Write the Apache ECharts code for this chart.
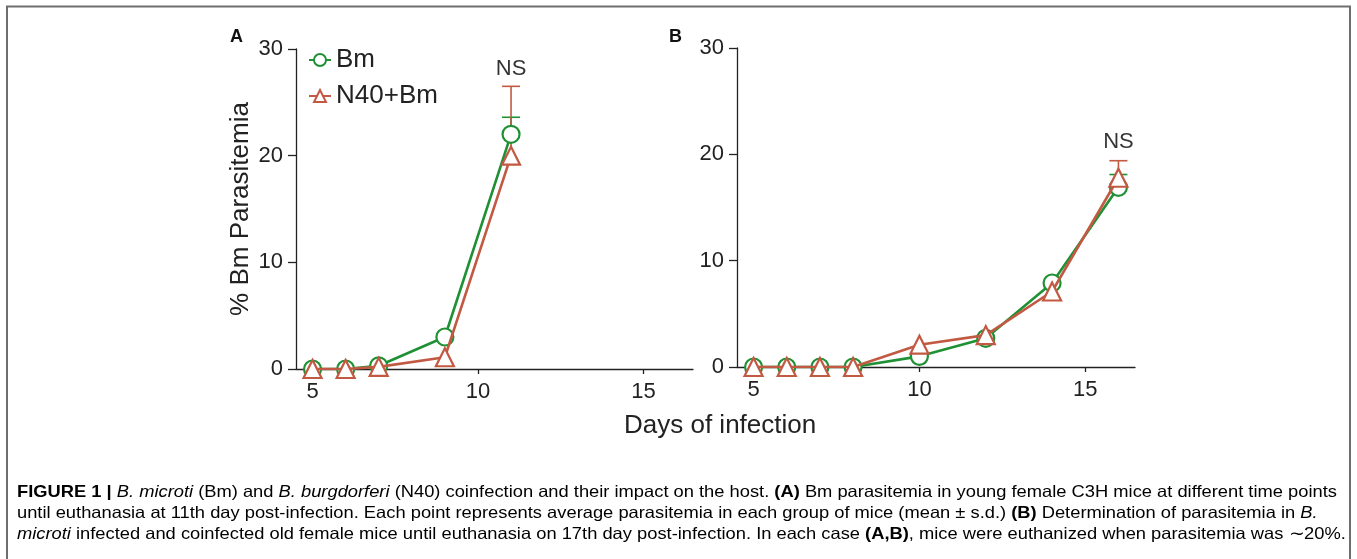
<!DOCTYPE html>
<html><head><meta charset="utf-8">
<script src="https://cdn.jsdelivr.net/npm/echarts@6/dist/echarts.min.js"></script>
<style>html,body{margin:0;padding:0;background:#fff}#c{width:1357px;height:559px}</style>
</head><body><div id="c"></div>
<script>
// ---- data ----
const daysA = [5, 6, 7, 9, 11];
const bmA = [0, 0, 0.3, 3.0, 22.0];
const n40A = [0, 0, 0.2, 1.1, 20.0];
const errA = { bmTop: 23.6, n40Top: 26.5, day: 11 };
const daysB = [5, 6, 7, 8, 10, 12, 14, 16];
const bmB = [0, 0, 0, 0, 1.0, 2.7, 7.9, 16.9];
const n40B = [0, 0, 0, 0, 2.1, 3.0, 7.1, 17.8];
const errB = { bmTop: 18.1, n40Top: 19.4, day: 16 };
const nsPos = [[11, 28.1], [16, 21.2]];
const xTicks = [5, 10, 15];
const seriesNames = ['Bm', 'N40+Bm'];
const captionLines = [
  [{t:'FIGURE 1 | ',s:'b'},{t:'B. microti',s:'i'},{t:' (Bm) and ',s:'n'},{t:'B. burgdorferi',s:'i'},{t:' (N40) coinfection and their impact on the host. ',s:'n'},{t:'(A)',s:'b'},{t:' Bm parasitemia in young female C3H mice at different time points',s:'n'}],
  [{t:'until euthanasia at 11th day post-infection. Each point represents average parasitemia in each group of mice (mean \u00b1 s.d.) ',s:'n'},{t:'(B)',s:'b'},{t:' Determination of parasitemia in ',s:'n'},{t:'B.',s:'i'}],
  [{t:'microti',s:'i'},{t:' infected and coinfected old female mice until euthanasia on 17th day post-infection. In each case ',s:'n'},{t:'(A,B)',s:'b'},{t:', mice were euthanized when parasitemia was \u223c20%.',s:'n'}]
];

const GREEN = '#1f9134';
const RED = '#c25a43';
const FONT = 'Liberation Sans, Arial, sans-serif';

const chart = echarts.init(document.getElementById('c'), null, {renderer:'canvas'});

function xAxis(gi){
  return {gridIndex: gi, type:'value', min:4.5, max:16.5, splitLine:{show:false},
    axisLine:{onZero:false, lineStyle:{color:'#222', width:1.3}},
    axisTick:{show:true, length:5, customValues: xTicks, lineStyle:{color:'#222', width:1.3}},
    axisLabel:{customValues: xTicks, fontSize:22, color:'#222', fontFamily:FONT, margin:12}};
}
function yAxis(gi){
  return {gridIndex: gi, type:'value', min:0, max:30, interval:10, splitLine:{show:false},
    axisLine:{show:true, lineStyle:{color:'#222', width:1.3}},
    axisTick:{show:true, length:8, lineStyle:{color:'#222', width:1.3}},
    axisLabel:{fontSize:22, color:'#222', fontFamily:FONT, margin:13},
    name: gi===0 ? '% Bm Parasitemia' : '', nameLocation:'middle', nameGap:42,
    nameTextStyle:{fontSize:26, color:'#222', fontFamily:FONT}};
}
function zip(xs, ys){ return xs.map((x,i)=>[x, ys[i]]); }
function lineSeries(name, gi, xs, ys, color, symbol){
  return {name, type:'line', xAxisIndex:gi, yAxisIndex:gi, data: zip(xs, ys),
    symbol, symbolSize: symbol==='circle'?17:18, showSymbol:true,
    lineStyle:{color, width:2.6}, itemStyle:{color:'#fff', borderColor:color, borderWidth:2.2},
    color, emphasis:{disabled:true}, z: symbol==='circle'?3:4};
}
function errSeries(gi, day, val, top, color){
  return {type:'custom', xAxisIndex:gi, yAxisIndex:gi, data:[[day, val, top]], z:2,
    renderItem(params, api){
      const p0 = api.coord([api.value(0), api.value(1)]);
      const p1 = api.coord([api.value(0), api.value(2)]);
      return {type:'group', children:[
        {type:'line', shape:{x1:p0[0], y1:p0[1], x2:p1[0], y2:p1[1]}, style:{stroke:color, lineWidth:1.6}},
        {type:'line', shape:{x1:p1[0]-9, y1:p1[1], x2:p1[0]+9, y2:p1[1]}, style:{stroke:color, lineWidth:1.6}}
      ]};
    }};
}
function nsSeries(gi, pos){
  return {type:'scatter', xAxisIndex:gi, yAxisIndex:gi, data:[pos], symbolSize:0, silent:true,
    label:{show:true, position:'inside', formatter:'NS', fontSize:22, color:'#000', fontFamily:FONT,
      textBorderWidth:0}};
}

const CAP = 16.5;
const rich = {
  n:{fontSize:CAP, fontFamily:FONT, color:'#333'},
  b:{fontSize:CAP, fontFamily:FONT, color:'#222', fontWeight:'bold'},
  i:{fontSize:CAP, fontFamily:FONT, color:'#333', fontStyle:'italic'}
};
const captionGraphics = captionLines.map((segs, k)=>({
  type:'text', x:17, y: 484 + k*21, scaleX:1.11, originX:0,
  style:{text: segs.map(s=>'{'+s.s+'|'+s.t+'}').join(''), rich, font:CAP+'px '+FONT}
}));

chart.setOption({
  animation:false,
  backgroundColor:'#fff',
  grid:[
    {left:296, top:49, width:397, height:320},
    {left:737, top:48, width:398, height:319}
  ],
  xAxis:[xAxis(0), xAxis(1)],
  yAxis:[yAxis(0), yAxis(1)],
  legend:{data:seriesNames, orient:'vertical', left:303, top:42, itemWidth:22, itemHeight:15, itemGap:10,
    textStyle:{fontSize:26, color:'#222', fontFamily:FONT}},
  series:[
    errSeries(0, errA.day, bmA[bmA.length-1], errA.bmTop, GREEN),
    errSeries(0, errA.day, n40A[n40A.length-1], errA.n40Top, RED),
    lineSeries(seriesNames[0], 0, daysA, bmA, GREEN, 'circle'),
    lineSeries(seriesNames[1], 0, daysA, n40A, RED, 'triangle'),
    errSeries(1, errB.day, bmB[bmB.length-1], errB.bmTop, GREEN),
    errSeries(1, errB.day, n40B[n40B.length-1], errB.n40Top, RED),
    lineSeries(seriesNames[0], 1, daysB, bmB, GREEN, 'circle'),
    lineSeries(seriesNames[1], 1, daysB, n40B, RED, 'triangle'),
    nsSeries(0, nsPos[0]), nsSeries(1, nsPos[1])
  ],
  graphic:[
    {type:'polyline', shape:{points:[[7,559],[7,6.5],[1350,6.5],[1350,559]]}, style:{stroke:'#6e6e6e', lineWidth:2, fill:null}},
    {type:'text', left:230, top:28, style:{text:'A', font:'bold 18px '+FONT, fill:'#111'}},
    {type:'text', left:669, top:28, style:{text:'B', font:'bold 18px '+FONT, fill:'#111'}},
    {type:'text', left:624, top:413, style:{text:'Days of infection', font:'26px '+FONT, fill:'#222'}}
  ].concat(captionGraphics)
});
</script></body></html>
